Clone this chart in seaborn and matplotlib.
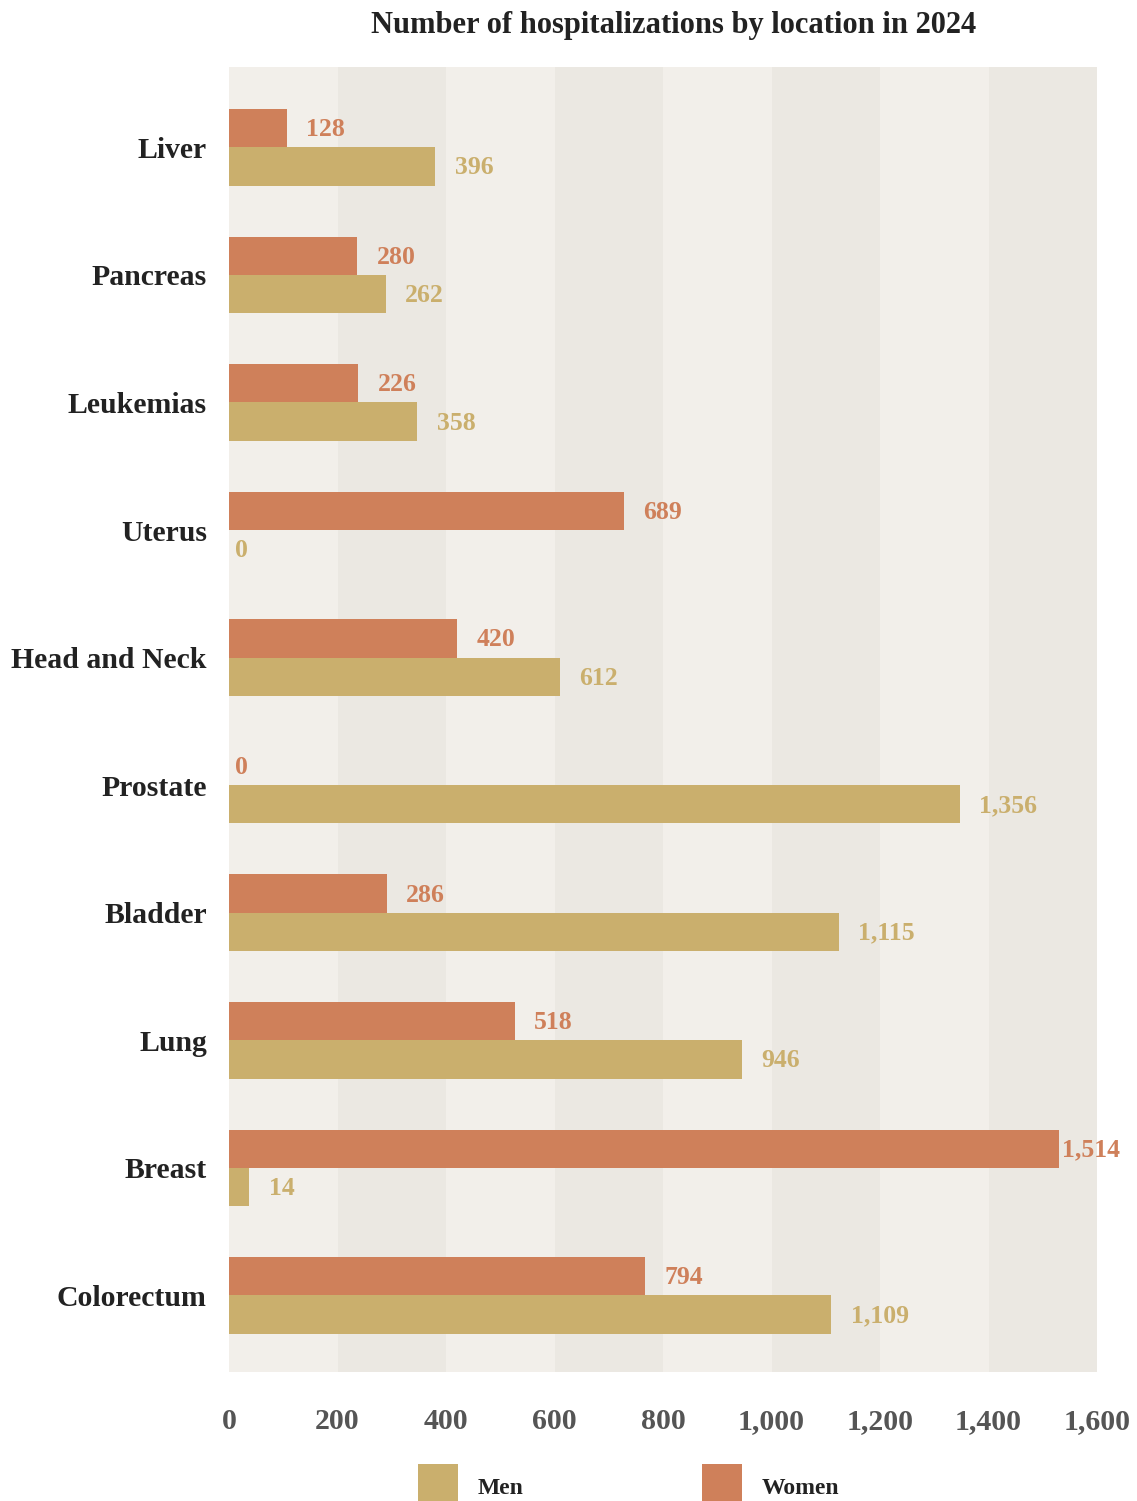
import numpy as np
import pandas as pd
import matplotlib
matplotlib.use("Agg")
import matplotlib.pyplot as plt
from matplotlib.patches import Rectangle
import seaborn as sns

# ---------------- data ----------------
locations = ["Liver", "Pancreas", "Leukemias", "Uterus", "Head and Neck",
             "Prostate", "Bladder", "Lung", "Breast", "Colorectum"]
women_values = [107, 236, 238, 728, 420, 0, 291, 527, 1530, 767]
men_values = [380, 289, 347, 0, 610, 1347, 1124, 946, 37, 1110]
women_labels = ["128", "280", "226", "689", "420", "0", "286", "518", "1,514", "794"]
men_labels = ["396", "262", "358", "0", "612", "1,356", "1,115", "946", "14", "1,109"]
series_names = ["Women", "Men"]
legend_order = ["Men", "Women"]
x_ticks = [0, 200, 400, 600, 800, 1000, 1200, 1400, 1600]
x_tick_labels = ["0", "200", "400", "600", "800", "1,000", "1,200", "1,400", "1,600"]
title = "Number of hospitalizations by location in 2024"

colors = {"Women": "#CF805A", "Men": "#CAAF6D"}
band_light = "#F2EFEA"
band_dark = "#EBE8E2"

df = pd.DataFrame({
    "Location": locations * 2,
    "Sex": ["Women"] * len(locations) + ["Men"] * len(locations),
    "Value": women_values + men_values,
})

# ---------------- style ----------------
sns.set_theme(style="white")
plt.rcParams["font.family"] = ["Liberation Serif", "DejaVu Serif"]
plt.rcParams["font.weight"] = "bold"

W, H = 1137, 1501
fig = plt.figure(figsize=(W / 100, H / 100), dpi=100)
fig.patch.set_facecolor("white")
ax = fig.add_axes([229 / W, 1 - 1372 / H, (1097 - 229) / W, (1372 - 67) / H])
ax.set_facecolor(band_light)

# alternating vertical bands
for i, x0 in enumerate(x_ticks[:-1]):
    ax.axvspan(x0, x_ticks[i + 1], color=band_dark if i % 2 == 1 else band_light,
               lw=0, zorder=0)

sns.barplot(data=df, y="Location", x="Value", hue="Sex", hue_order=series_names,
            order=locations, palette=colors, orient="h", width=0.6, gap=0,
            saturation=1, errorbar=None, linewidth=0, ax=ax, legend=False, zorder=2)

ax.set_xlim(0, 1600)
ax.set_ylim(9.6, -0.63)
for s in ax.spines.values():
    s.set_visible(False)
ax.set_xlabel("")
ax.set_ylabel("")
ax.set_xticks(x_ticks)
ax.set_xticklabels(x_tick_labels, fontsize=21.5, color="#555555", fontweight="bold")
ax.tick_params(axis="x", length=0, pad=26)
ax.tick_params(axis="y", length=0, pad=16)
for t in ax.get_yticklabels():
    t.set_fontsize(21.4)
    t.set_color("#222222")
    t.set_fontweight("bold")

# value labels
containers = ax.containers
label_sets = {"Women": women_labels, "Men": men_labels}
for cont, name in zip(containers, series_names):
    for bar, lab in zip(cont.patches, label_sets[name]):
        w = bar.get_width()
        yc = bar.get_y() + bar.get_height() / 2
        if w == 0:
            off = 4.5
        elif w > 1450:
            off = 2
        else:
            off = 14
        ax.annotate(lab, xy=(w, yc), xytext=(off, -1), textcoords="offset points",
                    ha="left", va="center", fontsize=18.5, fontweight="bold",
                    color=colors[name], zorder=3, annotation_clip=False)

# title
fig.text(673.5 / W, 1 - 25 / H, title, ha="center", va="center",
         fontsize=22, fontweight="bold", color="#222222")

# legend
leg_x = {"Men": 418, "Women": 702}
for name in legend_order:
    x0 = leg_x[name]
    fig.add_artist(Rectangle((x0 / W, 0), 40 / W, 37 / H, transform=fig.transFigure,
                             facecolor=colors[name], edgecolor="none"))
    fig.text((x0 + 60) / W, 1 - 1488 / H, name, ha="left", va="center",
             fontsize=17, fontweight="bold", color="#222222")

fig.savefig("out.png", dpi=100)
